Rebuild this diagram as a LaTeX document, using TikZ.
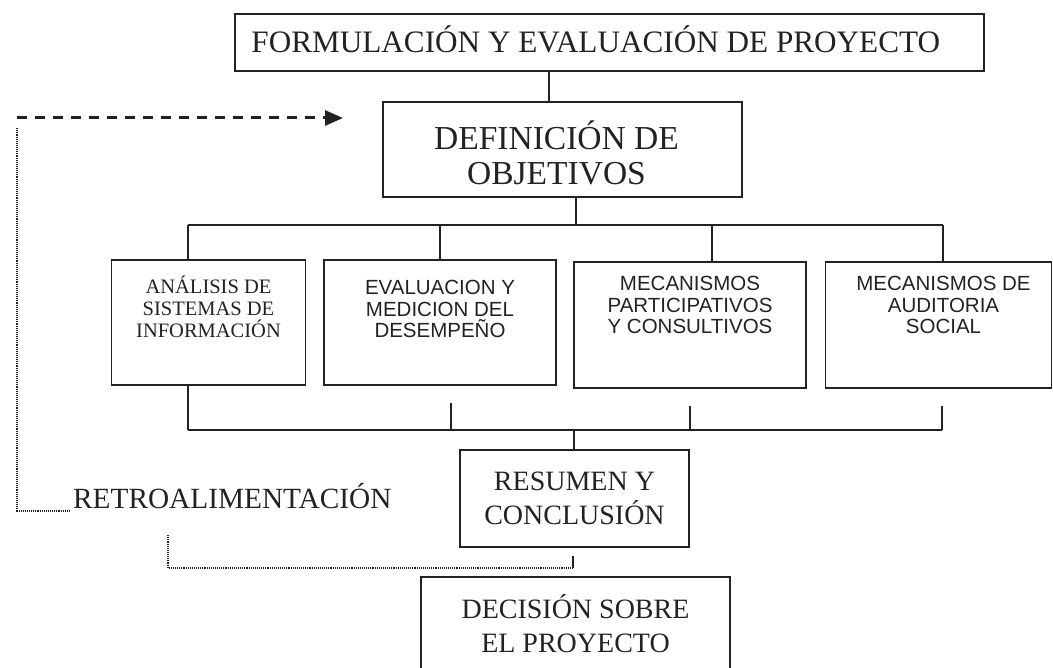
\documentclass[tikz,border=0pt]{standalone}
\usepackage{fontspec}
\setmainfont{Liberation Serif}
\setsansfont{Liberation Sans}
\usetikzlibrary{arrows.meta, positioning}
\definecolor{tinta}{HTML}{222222}
\newcommand{\letraTitulo}{\fontsize{31.2}{34}\selectfont}
\newcommand{\letraObjetivos}{\fontsize{33.5}{35}\selectfont}
\newcommand{\letraCaja}{\fontsize{28}{34}\selectfont}
\newcommand{\letraSerif}{\fontsize{20.5}{22}\selectfont}
\newcommand{\letraSans}{\sffamily\fontsize{20.5}{21.5}\selectfont}

\begin{document}
\begin{tikzpicture}[x=1pt, y=-1pt,
    caja/.style={draw=tinta, line width=1.5pt, inner sep=0pt, text=tinta, align=center},
    texto/.style={text=tinta, inner sep=0pt, align=center},
    enlace/.style={draw=tinta, line width=1.2pt},
    retorno/.style={draw=tinta, line width=1.1pt, densely dotted},
    flecha/.style={draw=tinta, line width=3pt, dash pattern=on 10pt off 8pt,
      -{Triangle[length=18pt, width=15pt]}}]
  \clip (0,0) rectangle (1053,668);
  \useasboundingbox (0,0) rectangle (1053,668);

  % cajas principales
  \node[caja, minimum width=749pt, minimum height=57pt] (formula) at (609.5,42.5) {};
  \node[texto, font=\letraTitulo, anchor=base west] (formulat)
    at ([xshift=17pt, yshift=-10.5pt]formula.west) {FORMULACIÓN Y EVALUACIÓN DE PROYECTO};
  \node[caja, minimum width=359pt, minimum height=95pt] (objetivos) at (562.5,149.5) {};
  \node[texto, font=\letraObjetivos] (objetivost) at ([xshift=-6pt, yshift=-3pt]objetivos.center)
    {DEFINICIÓN DE\\OBJETIVOS};

  % cuatro mecanismos
  \node[caja, minimum width=194pt, minimum height=125pt] (b1) at (208.5,322.5) {};
  \node[caja, minimum width=232pt, minimum height=125pt] (b2) at (440,322.5) {};
  \node[caja, minimum width=232pt, minimum height=126pt] (b3) at (690,325) {};
  \node[caja, minimum width=226pt, minimum height=126pt] (b4) at (938.5,325) {};
  \node[texto, font=\letraSerif] (b1t) at ([yshift=-48pt]b1.north) {ANÁLISIS DE\\SISTEMAS DE\\INFORMACIÓN};
  \node[texto, font=\letraSans] (b2t) at ([yshift=-50pt]b2.north) {EVALUACION Y\\MEDICION DEL\\DESEMPEÑO};
  \node[texto, font=\letraSans] (b3t) at ([yshift=-44pt]b3.north) {MECANISMOS\\PARTICIPATIVOS\\Y CONSULTIVOS};
  \node[texto, font=\letraSans] (b4t) at ([yshift=-44pt, xshift=5pt]b4.north) {MECANISMOS DE\\AUDITORIA\\SOCIAL};

  \node[caja, minimum width=229pt, minimum height=97pt, font=\letraCaja] (resumen)
    at (574.5,498.5) {RESUMEN Y\\CONCLUSIÓN};
  \node[caja, minimum width=309pt, minimum height=93pt, font=\letraCaja] (decision)
    at (575.5,623.5) {DECISIÓN SOBRE\\EL PROYECTO};
  \node[texto, font=\fontsize{29.3}{34}\selectfont, anchor=base west] (retro)
    at (73,508) {RETROALIMENTACIÓN};

  % ramas
  \coordinate (t1) at (188,225);
  \coordinate (t2) at (440,225);
  \coordinate (t3) at (712,225);
  \coordinate (t4) at (943,225);
  \coordinate (u1) at (188,430);
  \coordinate (u2) at (451,430);
  \coordinate (u3) at (690,430);
  \coordinate (u4) at (942,430);
  \coordinate (m) at (574,430);

  \draw[enlace] ([xshift=-13.5pt]objetivos.north) -- ([xshift=-13.5pt]objetivos.north |- formula.south);
  \draw[enlace] ([xshift=13.5pt]objetivos.south) -- ([xshift=13.5pt]objetivos.south |- t1);
  \draw[enlace] (t1) -- (t4);
  \foreach \i in {1,...,4}
    \draw[enlace] (t\i) -- (t\i |- b\i.north);
  \draw[enlace] (u1) -- (u4);
  \draw[enlace] (u1) -- (u1 |- b1.south);
  \foreach \i in {2,3,4}
    \draw[enlace] (u\i) -- ([yshift=-17pt]u\i |- b\i.south);
  \draw[enlace] (m) -- (m |- resumen.north);

  % retroalimentacion
  \coordinate (fm) at (573,568);
  \coordinate (fr) at (168,568);
  \coordinate (fl) at (17,511);
  \coordinate (fv) at (17,128);
  \coordinate (fa) at (17,118);
  \coordinate (fp) at (343,118);
  \draw[enlace] ([yshift=-8pt]resumen.south -| fm) -- (fm);
  \draw[retorno] (fm) -- (fr) -- ([yshift=-27pt]fr |- retro.base);
  \draw[retorno] ([xshift=-3pt]retro.west |- fl) -- (fl) -- (fv);
  \draw[flecha] (fa) -- (fp);
\end{tikzpicture}
\end{document}
